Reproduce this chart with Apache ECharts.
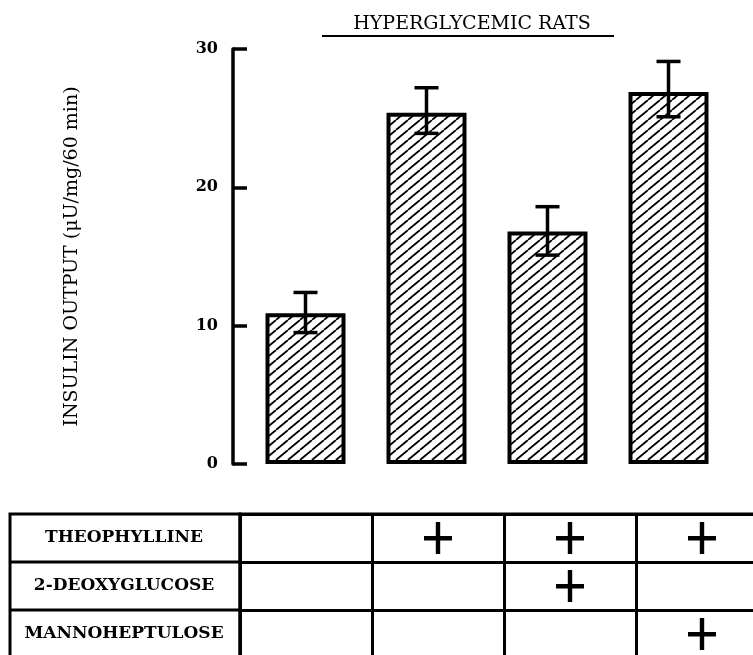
<!DOCTYPE html>
<html>
<head>
<meta charset="utf-8">
<title>Hyperglycemic rats</title>
<script src="https://cdn.jsdelivr.net/npm/echarts@6/dist/echarts.min.js"></script>
<style>
html,body{margin:0;padding:0;background:#fff;}
#main{width:753px;height:655px;}
</style>
</head>
<body>
<div id="main"></div>
<script>
// data
var groups = ['Control', 'Theo', 'Theo + 2-DG', 'Theo + MH'];
var insulin = [10.9, 25.4, 16.8, 26.9];
var errLow = [9.5, 23.9, 15.1, 25.1];
var errHigh = [12.4, 27.2, 18.6, 29.1];
var yTicks = [0, 10, 20, 30];

// treatment table
var rowLabels = ['THEOPHYLLINE', '2-DEOXYGLUCOSE', 'MANNOHEPTULOSE'];
var theophylline = [0, 1, 1, 1];
var deoxyglucose = [0, 0, 1, 0];
var mannoheptulose = [0, 0, 0, 1];

var serif = '"DejaVu Serif", "Liberation Serif", serif';

// hatch pattern for the bars
function hatch(){
	var c = document.createElement('canvas');
	var w = 12, h = 10;
	c.width = w; c.height = h;
	var ctx = c.getContext('2d');
	ctx.fillStyle = '#fff';
	ctx.fillRect(0, 0, w, h);
	ctx.strokeStyle = '#000';
	ctx.lineWidth = 1.8;
	for (var k = -1; k <= 1; k++) {
		ctx.beginPath();
		ctx.moveTo(k * w, h);
		ctx.lineTo(k * w + w, 0);
		ctx.stroke();
	}
	return c;
}

var errData = [];
for (var i = 0; i < groups.length; i++) {
	errData.push([i, errLow[i], errHigh[i]]);
}

var plusData = [];
var rows = [theophylline, deoxyglucose, mannoheptulose];
for (var r = 0; r < rows.length; r++) {
	for (var j = 0; j < rows[r].length; j++) {
		if (rows[r][j]) plusData.push([j, r]);
	}
}

// table layout
var tTop = 514, tLeft = 240, tRowH = 48, tColW = 132, labLeft = 10;

var myChart = echarts.init(document.getElementById('main'));
var option = {
	animation: false,
	backgroundColor: '#fff',
	title: {
		text: 'HYPERGLYCEMIC RATS',
		left: 467,
		textAlign: 'center',
		top: 10,
		textStyle: {fontFamily: serif, fontSize: 19, fontWeight: 'normal', color: '#000'}
	},
	grid: [
		{left: 245, right: 24, top: 49, bottom: 191, outerBoundsMode: 'none'},
		{left: tLeft, top: tTop, width: tColW * 4, height: tRowH * 3, outerBoundsMode: 'none',
		 show: true, borderColor: '#000', borderWidth: 3, backgroundColor: 'transparent'}
	],
	xAxis: [
		{
			type: 'category', gridIndex: 0, data: groups,
			axisLine: {show: false}, axisTick: {show: false}, axisLabel: {show: false}
		},
		{
			type: 'category', gridIndex: 1, data: groups,
			axisLine: {show: false}, axisTick: {show: false}, axisLabel: {show: false},
			splitLine: {show: true, lineStyle: {color: '#000', width: 3}}
		}
	],
	yAxis: [
		{
			type: 'value', gridIndex: 0, min: 0, max: 30, interval: 10, offset: 12,
			name: 'INSULIN OUTPUT (\u03bcU/mg/60 min)',
			nameLocation: 'middle', nameGap: 151, nameRotate: 90,
			nameTextStyle: {fontFamily: serif, fontSize: 19, color: '#000'},
			axisLine: {show: true, lineStyle: {color: '#000', width: 3.5}},
			axisTick: {show: true, inside: true, length: 14, lineStyle: {color: '#000', width: 3.5}},
			axisLabel: {
				margin: 15, fontFamily: serif, fontSize: 16, fontWeight: 'bold', color: '#000',
				formatter: function(v){ return yTicks.indexOf(v) > -1 ? String(v) : ''; }
			},
			splitLine: {show: false}
		},
		{
			type: 'category', gridIndex: 1, data: rowLabels, inverse: true,
			axisLine: {show: false}, axisTick: {show: false},
			axisLabel: {margin: 116, align: 'center', fontFamily: serif, fontSize: 17, fontWeight: 'bold', color: '#000'},
			splitLine: {show: true, lineStyle: {color: '#000', width: 3}}
		}
	],
	series: [
		{
			name: 'Insulin output',
			type: 'bar',
			xAxisIndex: 0, yAxisIndex: 0,
			barWidth: 80,
			itemStyle: {color: {image: hatch(), repeat: 'repeat'}, borderColor: '#000', borderWidth: 4},
			data: insulin,
			z: 2
		},
		{
			name: 'SEM',
			type: 'custom',
			xAxisIndex: 0, yAxisIndex: 0,
			encode: {x: 0, y: [1, 2]},
			data: errData,
			z: 3,
			renderItem: function(params, api){
				var lo = api.coord([api.value(0), api.value(1)]);
				var hi = api.coord([api.value(0), api.value(2)]);
				var w = 12;
				var st = {stroke: '#000', lineWidth: 3.5};
				return {type: 'group', children: [
					{type: 'line', shape: {x1: hi[0], y1: hi[1], x2: lo[0], y2: lo[1]}, style: st},
					{type: 'line', shape: {x1: hi[0] - w, y1: hi[1], x2: hi[0] + w, y2: hi[1]}, style: st},
					{type: 'line', shape: {x1: lo[0] - w, y1: lo[1], x2: lo[0] + w, y2: lo[1]}, style: st}
				]};
			}
		},
		{
			name: 'Treatment',
			type: 'scatter',
			xAxisIndex: 1, yAxisIndex: 1,
			symbol: 'path://M0,14L28,14L28,18.5L0,18.5ZM11.8,0L16.2,0L16.2,32L11.8,32Z',
			symbolSize: [28, 32],
			itemStyle: {color: '#000', opacity: 1},
			data: plusData
		}
	],
	graphic: [
		{type: 'line', shape: {x1: 322, y1: 36, x2: 614, y2: 36}, style: {stroke: '#000', lineWidth: 2}},
		{type: 'rect', shape: {x: labLeft, y: tTop, width: tLeft - labLeft, height: tRowH * 3},
		 style: {fill: 'none', stroke: '#000', lineWidth: 3}},
		{type: 'line', shape: {x1: labLeft, y1: tTop + tRowH, x2: tLeft, y2: tTop + tRowH}, style: {stroke: '#000', lineWidth: 3}},
		{type: 'line', shape: {x1: labLeft, y1: tTop + tRowH * 2, x2: tLeft, y2: tTop + tRowH * 2}, style: {stroke: '#000', lineWidth: 3}}
	]
};
myChart.setOption(option);
</script>
</body>
</html>
